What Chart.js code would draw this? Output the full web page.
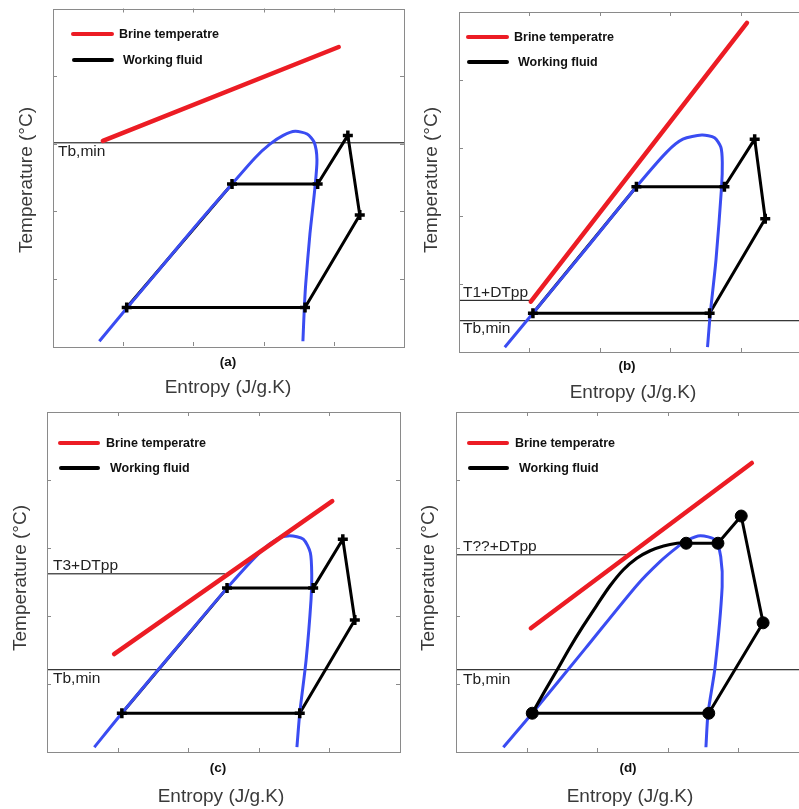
<!DOCTYPE html>
<html><head><meta charset="utf-8">
<script src="https://cdn.jsdelivr.net/npm/chart.js@4/dist/chart.umd.min.js"></script>
<style>
html,body{margin:0;padding:0;background:#fff;overflow:hidden}
#wrap{position:relative;width:799px;height:809px;overflow:hidden;background:#fff}
canvas{position:absolute}
</style></head><body>
<div id="wrap">
<canvas id="ca" width="420" height="400" style="left:0px;top:0px"></canvas>
<canvas id="cb" width="410" height="408" style="left:420px;top:0px"></canvas>
<canvas id="cc" width="420" height="409" style="left:0px;top:400px"></canvas>
<canvas id="cd" width="410" height="409" style="left:420px;top:400px"></canvas>
</div>
<script>
// ---------- text ----------
const xTitle = 'Entropy (J/g.K)';
const yTitle = 'Temperature (°C)';
const legendLabels = ['Brine temperatre', 'Working fluid'];
const panelLetters = ['(a)', '(b)', '(c)', '(d)'];
const xTickValues = [1, 2, 3, 4];
const yTickValues = [1, 2, 3, 4];

// ---------- panel (a) ----------
const brineA = [[0.71, 3.04], [4.07, 4.43]];
const domeA = [[0.66,0.07],[1.05,0.56],[1.52,1.14],[2.09,1.85],[2.55,2.40],[2.88,2.79],[3.09,2.99],[3.28,3.12],[3.45,3.18],[3.62,3.14],[3.72,3.02],[3.76,2.76],[3.73,2.33],[3.66,1.66],[3.60,0.92],[3.58,0.56],[3.56,0.07]];
const cycleA = [[1.05,0.57],[2.55,2.40],[3.77,2.40],[4.20,3.12],[4.37,1.94],[3.59,0.57],[1.05,0.57]];
const statesA = [[1.05,0.57],[2.55,2.40],[3.77,2.40],[4.20,3.12],[4.37,1.94],[3.59,0.57]];
const refLinesA = [{label:'Tb,min', y:3.01, x1:5}];

// ---------- panel (b) ----------
const brineB = [[1.02, 0.74], [4.09, 4.84]];
const domeB = [[0.65,0.07],[1.05,0.57],[1.79,1.50],[2.52,2.43],[2.95,2.94],[3.18,3.13],[3.45,3.19],[3.63,3.15],[3.72,3.01],[3.74,2.79],[3.73,2.43],[3.65,1.35],[3.57,0.57],[3.53,0.07]];
const cycleB = [[1.05,0.57],[2.52,2.43],[3.77,2.43],[4.20,3.13],[4.35,1.96],[3.56,0.57],[1.05,0.57]];
const statesB = [[1.05,0.57],[2.52,2.43],[3.77,2.43],[4.20,3.13],[4.35,1.96],[3.56,0.57]];
const refLinesB = [{label:'T1+DTpp', y:0.76, x1:1.02},{label:'Tb,min', y:0.46, x1:5}];

// ---------- panel (c) ----------
const brineC = [[0.95, 1.44], [4.04, 3.69]];
const domeC = [[0.67,0.07],[1.06,0.57],[1.81,1.50],[2.55,2.41],[3.02,2.94],[3.26,3.13],[3.44,3.18],[3.63,3.13],[3.73,2.93],[3.75,2.60],[3.74,2.24],[3.67,1.35],[3.58,0.57],[3.54,0.07]];
const cycleC = [[1.06,0.57],[2.55,2.41],[3.77,2.41],[4.19,3.13],[4.36,1.94],[3.58,0.57],[1.06,0.57]];
const statesC = [[1.06,0.57],[2.55,2.41],[3.77,2.41],[4.19,3.13],[4.36,1.94],[3.58,0.57]];
const refLinesC = [{label:'T3+DTpp', y:2.62, x1:2.52},{label:'Tb,min', y:1.21, x1:5}];

// ---------- panel (d) ----------
const brineD = [[1.06, 1.82], [4.19, 4.25]];
const domeD = [[0.67,0.07],[1.08,0.57],[1.83,1.52],[2.56,2.45],[2.89,2.80],[3.13,3.01],[3.27,3.11],[3.46,3.18],[3.67,3.12],[3.75,2.87],[3.77,2.43],[3.67,1.25],[3.57,0.57],[3.54,0.07]];
const heatingCurveD = [[1.08,0.57],[1.26,0.90],[1.44,1.22],[1.61,1.53],[1.80,1.85],[1.99,2.15],[2.18,2.44],[2.37,2.68],[2.56,2.85],[2.75,2.96],[2.94,3.03],[3.13,3.07],[3.26,3.08]];
const cycleD = [[3.26,3.07],[3.71,3.07],[4.04,3.47],[4.35,1.90],[3.58,0.57],[1.08,0.57]];
const statesD = [[1.08,0.57],[3.26,3.07],[3.71,3.07],[4.04,3.47],[4.35,1.90],[3.58,0.57]];
const refLinesD = [{label:'T??+DTpp', y:2.90, x1:2.44},{label:'Tb,min', y:1.21, x1:5}];

// ---------- styling ----------
const RED = '#ec1c24', BLUE = '#3a4cf2', BLACK = '#000', FRAME = '#8a8a8a';
const pts = a => a.map(p => ({x:p[0], y:p[1]}));

function framePlugin(L) {
  return {
    id: 'frame' + L.letter,
    afterDraw(chart) {
      const ctx = chart.ctx, a = chart.chartArea;
      const xs = chart.scales.x, ys = chart.scales.y;
      ctx.save();
      ctx.strokeStyle = FRAME; ctx.lineWidth = 1;
      ctx.strokeRect(Math.round(a.left)+0.5, Math.round(a.top)+0.5, Math.round(a.right-a.left), Math.round(a.bottom-a.top));
      ctx.beginPath();
      xTickValues.forEach(v => {
        const px = Math.round(xs.getPixelForValue(v)) + 0.5;
        ctx.moveTo(px, a.bottom); ctx.lineTo(px, a.bottom - 4);
        ctx.moveTo(px, a.top); ctx.lineTo(px, a.top + 4);
      });
      yTickValues.forEach(v => {
        const py = Math.round(ys.getPixelForValue(v)) + 0.5;
        ctx.moveTo(a.left, py); ctx.lineTo(a.left + 4, py);
        ctx.moveTo(a.right, py); ctx.lineTo(a.right - 4, py);
      });
      ctx.stroke();

      // reference line labels
      ctx.fillStyle = '#222';
      ctx.font = '15.5px "Liberation Sans", Arial, sans-serif';
      ctx.textBaseline = 'middle'; ctx.textAlign = 'left';
      L.refs.forEach((r, i) => {
        ctx.fillText(r.label, a.left + L.refTextDx, ys.getPixelForValue(r.y) + L.refTextDy[i]);
      });

      // legend
      const lg = L.legend;
      ctx.lineCap = 'round';
      ctx.lineWidth = 4; ctx.strokeStyle = RED;
      ctx.beginPath(); ctx.moveTo(lg.x1, lg.y1); ctx.lineTo(lg.x2, lg.y1); ctx.stroke();
      ctx.strokeStyle = BLACK;
      ctx.beginPath(); ctx.moveTo(lg.x1 + 1, lg.y2); ctx.lineTo(lg.x2, lg.y2); ctx.stroke();
      ctx.fillStyle = '#111';
      ctx.font = 'bold 12.5px "Liberation Sans", Arial, sans-serif';
      ctx.fillText(legendLabels[0], lg.tx1, lg.y1 + 1);
      ctx.fillText(legendLabels[1], lg.tx2, lg.y2 + 1);

      // panel letter
      ctx.textAlign = 'center';
      ctx.font = 'bold 13.5px "Liberation Sans", Arial, sans-serif';
      ctx.fillText(L.letter, L.letterX, L.letterY);

      // axis titles
      ctx.fillStyle = '#3a3a3a';
      ctx.font = '19px "Liberation Sans", Arial, sans-serif';
      ctx.fillText(xTitle, L.xtX, L.xtY);
      ctx.translate(L.ytX, L.ytY);
      ctx.rotate(-Math.PI / 2);
      ctx.fillText(yTitle, 0, 0);
      ctx.restore();
    }
  };
}

function makePanel(id, L, brine, dome, cycle, states, refs, curve) {
  const datasets = [];
  datasets.push({data: pts(states), showLine: false, pointStyle: L.circles ? 'circle' : 'cross',
    pointRadius: L.circles ? 6 : 5, pointBorderWidth: L.circles ? 1 : 3.5,
    pointBackgroundColor: BLACK, pointBorderColor: BLACK});
  datasets.push({data: pts(brine), showLine: true, borderColor: RED, borderWidth: 4.5, pointRadius: 0, borderCapStyle: 'round'});
  if (curve) datasets.push({data: pts(curve), showLine: true, borderColor: BLACK, borderWidth: 3.2, pointRadius: 0, cubicInterpolationMode: 'monotone'});
  datasets.push({data: pts(dome), showLine: true, borderColor: BLUE, borderWidth: 3, pointRadius: 0, tension: 0.25});
  datasets.push({data: pts(cycle), showLine: true, borderColor: BLACK, borderWidth: 3, pointRadius: 0, tension: 0});
  refs.forEach(r => datasets.push({data: [{x:0, y:r.y}, {x:r.x1, y:r.y}], showLine: true, borderColor: BLACK, borderWidth: 1, pointRadius: 0}));
  L.refs = refs;
  new Chart(document.getElementById(id), {
    type: 'scatter',
    data: {datasets},
    options: {
      responsive: false, animation: false, devicePixelRatio: 1,
      layout: {padding: L.pad},
      plugins: {legend: {display: false}, tooltip: {enabled: false}},
      scales: {
        x: {type: 'linear', min: 0, max: 5, display: false},
        y: {type: 'linear', min: 0, max: 5, display: false}
      },
      elements: {line: {borderJoinStyle: 'round'}}
    },
    plugins: [framePlugin(L)]
  });
}

// layouts (canvas-local pixel positions)
const layoutA = {letter: panelLetters[0], pad: {left: 53, top: 5, right: 16, bottom: 54},
  refTextDx: 5, refTextDy: [9],
  legend: {x1: 73, x2: 112, y1: 34, y2: 60, tx1: 119, tx2: 123},
  letterX: 228, letterY: 362, xtX: 228, xtY: 388, ytX: 27, ytY: 180, circles: false};
const layoutB = {letter: panelLetters[1], pad: {left: 39, top: 12, right: 410 - 391, bottom: 56},
  refTextDx: 4, refTextDy: [-8, 8],
  legend: {x1: 48, x2: 87, y1: 37, y2: 62, tx1: 94, tx2: 98},
  letterX: 207, letterY: 366, xtX: 213, xtY: 393, ytX: 12, ytY: 180, circles: false};
const layoutC = {letter: panelLetters[2], pad: {left: 47, top: 12, right: 20, bottom: 57},
  refTextDx: 6, refTextDy: [-8, 9],
  legend: {x1: 60, x2: 98, y1: 43, y2: 68, tx1: 106, tx2: 110},
  letterX: 218, letterY: 368, xtX: 221, xtY: 397, ytX: 21, ytY: 178, circles: false};
const layoutD = {letter: panelLetters[3], pad: {left: 36, top: 12, right: 410 - 389, bottom: 57},
  refTextDx: 7, refTextDy: [-8, 10],
  legend: {x1: 49, x2: 87, y1: 43, y2: 68, tx1: 95, tx2: 99},
  letterX: 208, letterY: 368, xtX: 210, xtY: 397, ytX: 9, ytY: 178, circles: true};

makePanel('ca', layoutA, brineA, domeA, cycleA, statesA, refLinesA);
makePanel('cb', layoutB, brineB, domeB, cycleB, statesB, refLinesB);
makePanel('cc', layoutC, brineC, domeC, cycleC, statesC, refLinesC);
makePanel('cd', layoutD, brineD, domeD, cycleD, statesD, refLinesD, heatingCurveD);
</script>
</body></html>
